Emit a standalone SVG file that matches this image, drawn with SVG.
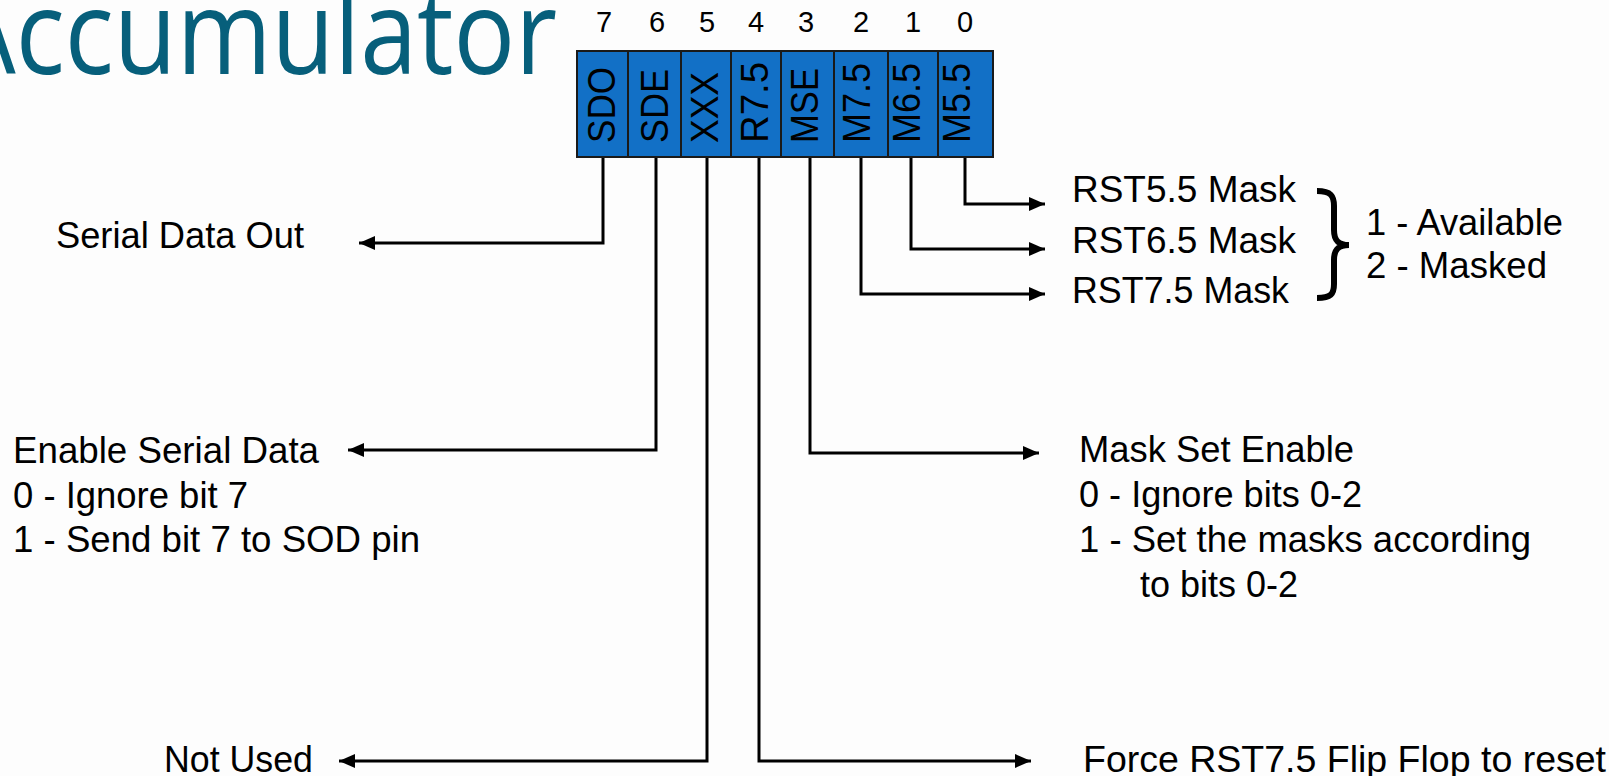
<svg xmlns="http://www.w3.org/2000/svg" width="1609" height="776" viewBox="0 0 1609 776">
<defs>
<style>
.lbl{font-family:"Liberation Sans",Arial,sans-serif;font-size:37px;fill:#000}
.bitn{font-family:"Liberation Sans",Arial,sans-serif;font-size:29px;fill:#000;text-anchor:middle}
.cell{fill:#1270C6;stroke:#1a1a1a;stroke-width:2}
.rot{font-family:"Liberation Sans",Arial,sans-serif;font-size:38px;fill:#000}
.conn{fill:none;stroke:#000;stroke-width:3;marker-end:url(#arr)}
</style>
<marker id="arr" markerUnits="userSpaceOnUse" markerWidth="18" markerHeight="15" refX="16" refY="7" orient="auto">
<path d="M0,0 L16,7 L0,14 z" fill="#000"/>
</marker>
</defs>
<rect x="0" y="0" width="1609" height="776" fill="#fdfdfd"/>
<g id="title">
<text x="-49" y="74" font-family="'Open Sans',sans-serif" font-size="118" fill="#075F7B" textLength="606" lengthAdjust="spacingAndGlyphs">Accumulator</text>
</g>
<g id="bit7"><rect class="cell" x="577" y="51" width="51" height="106"/><text class="bitn" x="604" y="32">7</text><text class="rot" transform="translate(615,143) rotate(-90)" textLength="76" lengthAdjust="spacingAndGlyphs">SDO</text></g>
<g id="bit6"><rect class="cell" x="628" y="51" width="53" height="106"/><text class="bitn" x="657" y="32">6</text><text class="rot" transform="translate(668,143) rotate(-90)" textLength="74" lengthAdjust="spacingAndGlyphs">SDE</text></g>
<g id="bit5"><rect class="cell" x="681" y="51" width="50" height="106"/><text class="bitn" x="707" y="32">5</text><text class="rot" transform="translate(718,143) rotate(-90)" textLength="71" lengthAdjust="spacingAndGlyphs">XXX</text></g>
<g id="bit4"><rect class="cell" x="731" y="51" width="50" height="106"/><text class="bitn" x="756" y="32">4</text><text class="rot" transform="translate(768,143) rotate(-90)" textLength="81" lengthAdjust="spacingAndGlyphs">R7.5</text></g>
<g id="bit3"><rect class="cell" x="781" y="51" width="53" height="106"/><text class="bitn" x="806" y="32">3</text><text class="rot" transform="translate(818,143) rotate(-90)" textLength="75" lengthAdjust="spacingAndGlyphs">MSE</text></g>
<g id="bit2"><rect class="cell" x="834" y="51" width="54" height="106"/><text class="bitn" x="861" y="32">2</text><text class="rot" transform="translate(870,143) rotate(-90)" textLength="80" lengthAdjust="spacingAndGlyphs">M7.5</text></g>
<g id="bit1"><rect class="cell" x="888" y="51" width="50" height="106"/><text class="bitn" x="913" y="32">1</text><text class="rot" transform="translate(920,143) rotate(-90)" textLength="80" lengthAdjust="spacingAndGlyphs">M6.5</text></g>
<g id="bit0"><rect class="cell" x="938" y="51" width="55" height="106"/><text class="bitn" x="965" y="32">0</text><text class="rot" transform="translate(970,143) rotate(-90)" textLength="80" lengthAdjust="spacingAndGlyphs">M5.5</text></g>
<g id="connectors">
<path class="conn" d="M603,158 V243 H359"/>
<path class="conn" d="M656,158 V450 H348"/>
<path class="conn" d="M707,158 V761 H339"/>
<path class="conn" d="M759,158 V761 H1031"/>
<path class="conn" d="M810,158 V453 H1039"/>
<path class="conn" d="M861,158 V294 H1045"/>
<path class="conn" d="M911,158 V249 H1045"/>
<path class="conn" d="M965,158 V204 H1045"/>
</g>
<g id="sdo-desc"><text class="lbl" x="56" y="248" textLength="248" lengthAdjust="spacingAndGlyphs">Serial Data Out</text></g>
<g id="sde-desc">
<text class="lbl" x="13" y="463" textLength="306" lengthAdjust="spacingAndGlyphs">Enable Serial Data</text>
<text class="lbl" x="13" y="508" textLength="235" lengthAdjust="spacingAndGlyphs">0 - Ignore bit 7</text>
<text class="lbl" x="13" y="552" textLength="407" lengthAdjust="spacingAndGlyphs">1 - Send bit 7 to SOD pin</text>
</g>
<g id="xxx-desc"><text class="lbl" x="164" y="772" textLength="149" lengthAdjust="spacingAndGlyphs">Not Used</text></g>
<g id="r75-desc"><text class="lbl" x="1083" y="772" textLength="523" lengthAdjust="spacingAndGlyphs">Force RST7.5 Flip Flop to reset</text></g>
<g id="mse-desc">
<text class="lbl" x="1079" y="462" textLength="275" lengthAdjust="spacingAndGlyphs">Mask Set Enable</text>
<text class="lbl" x="1079" y="507" textLength="283" lengthAdjust="spacingAndGlyphs">0 - Ignore bits 0-2</text>
<text class="lbl" x="1079" y="552" textLength="452" lengthAdjust="spacingAndGlyphs">1 - Set the masks according</text>
<text class="lbl" x="1140" y="597" textLength="158" lengthAdjust="spacingAndGlyphs">to bits 0-2</text>
</g>
<g id="mask-desc">
<text class="lbl" x="1072" y="202" textLength="224" lengthAdjust="spacingAndGlyphs">RST5.5 Mask</text>
<text class="lbl" x="1072" y="253" textLength="224" lengthAdjust="spacingAndGlyphs">RST6.5 Mask</text>
<text class="lbl" x="1072" y="303" textLength="217" lengthAdjust="spacingAndGlyphs">RST7.5 Mask</text>
<path d="M1317,191 C1331,191 1334,196 1334,206 L1334,230 C1334,240 1338,245 1349,245 C1338,245 1334,250 1334,260 L1334,284 C1334,294 1331,298 1317,298" fill="none" stroke="#000" stroke-width="6"/>
<text class="lbl" x="1366" y="235" textLength="197" lengthAdjust="spacingAndGlyphs">1 - Available</text>
<text class="lbl" x="1366" y="278" textLength="181" lengthAdjust="spacingAndGlyphs">2 - Masked</text>
</g>
</svg>
